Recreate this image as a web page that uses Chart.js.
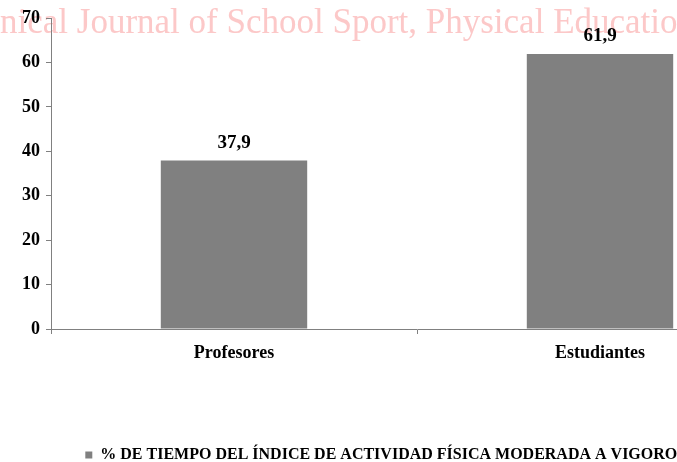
<!DOCTYPE html>
<html>
<head>
<meta charset="utf-8">
<script src="https://cdn.jsdelivr.net/npm/chart.js@4/dist/chart.umd.min.js"></script>
<style>
html,body{margin:0;padding:0;background:#fff;overflow:hidden;width:677px;height:462px;}
#wrap{width:790px;height:462px;position:relative;}
</style>
</head>
<body>
<div id="wrap"><canvas id="c" width="790" height="462"></canvas></div>
<script>
const categories = ["Profesores", "Estudiantes"];
const seriesName = "% DE TIEMPO DEL ÍNDICE DE ACTIVIDAD FÍSICA MODERADA A VIGOROSA";
const seriesValues = [37.9, 61.9];
const valueLabels = ["37,9", "61,9"];
const yTicks = [0, 10, 20, 30, 40, 50, 60, 70];
const watermarkText = "Sportis. Scientific Technical Journal of School Sport, Physical Education and Psychomotricity";

const SERIF = '"Liberation Serif", "Times New Roman", serif';

const watermark = {
  id: 'watermark',
  beforeDraw(chart) {
    const ctx = chart.ctx;
    ctx.save();
    ctx.font = '35px ' + SERIF;
    ctx.fillStyle = '#fcc8c8';
    ctx.textBaseline = 'alphabetic';
    const pre = ctx.measureText("Sportis. Scientific Tech").width;
    ctx.fillText(watermarkText, -pre, 33);
    ctx.restore();
  }
};

const valueLabelPlugin = {
  id: 'valueLabels',
  afterDatasetsDraw(chart) {
    const ctx = chart.ctx;
    const meta = chart.getDatasetMeta(0);
    ctx.save();
    ctx.font = 'bold 19px ' + SERIF;
    ctx.fillStyle = '#000';
    ctx.textAlign = 'center';
    ctx.textBaseline = 'alphabetic';
    meta.data.forEach((bar, i) => {
      ctx.fillText(valueLabels[i], bar.x, bar.y - 13);
    });
    ctx.restore();
  }
};

new Chart(document.getElementById('c'), {
  type: 'bar',
  data: {
    labels: categories,
    datasets: [{
      label: seriesName,
      data: seriesValues,
      backgroundColor: '#808080',
      borderWidth: 0,
      categoryPercentage: 1,
      barPercentage: 0.4
    }]
  },
  options: {
    responsive: false,
    devicePixelRatio: 1,
    animation: false,
    layout: { padding: { top: 18, left: 0, right: 7, bottom: -11 } },
    plugins: {
      tooltip: { enabled: false },
      legend: {
        position: 'bottom',
        labels: {
          font: { family: SERIF, size: 16, weight: 'bold' },
          color: '#000',
          boxWidth: 7,
          boxHeight: 7,
          padding: 6
        }
      }
    },
    scales: {
      x: {
        offset: true,
        grid: { offset: true, drawOnChartArea: false, tickLength: 5, color: '#808080' },
        border: { color: '#808080', width: 1 },
        ticks: { font: { family: SERIF, size: 18, weight: 'bold' }, color: '#000', padding: 9 },
        afterFit(scale) { scale.height = 112; }
      },
      y: {
        min: 0, max: 70,
        afterBuildTicks(scale) { scale.ticks = yTicks.map(v => ({ value: v })); },
        grid: { drawOnChartArea: false, tickLength: 5, color: '#808080' },
        border: { color: '#808080', width: 1 },
        ticks: { font: { family: SERIF, size: 18, weight: 'bold' }, color: '#000', padding: 6 },
        afterFit(scale) { scale.width = 51; }
      }
    }
  },
  plugins: [watermark, valueLabelPlugin]
});
</script>
</body>
</html>
